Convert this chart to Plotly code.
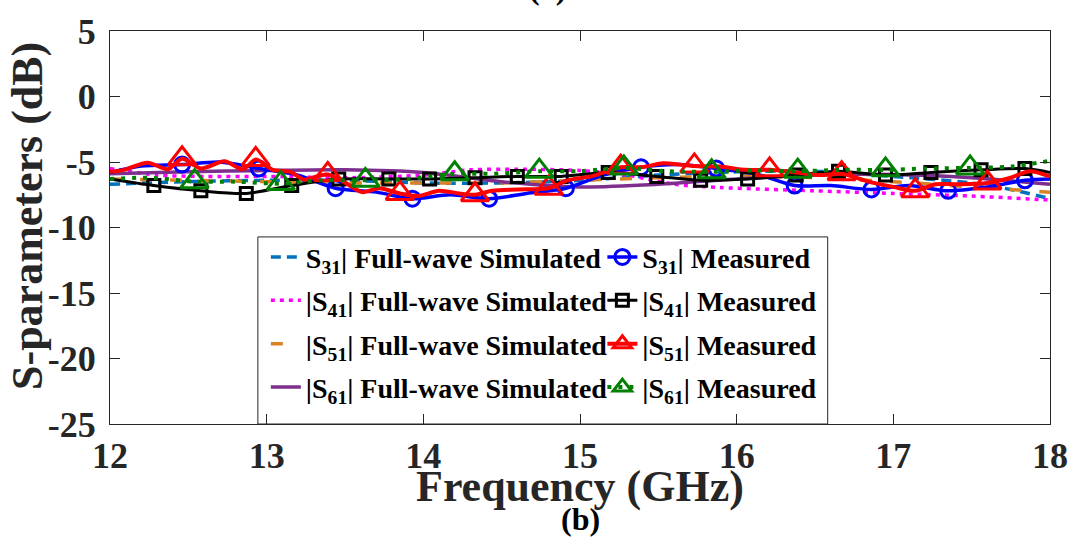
import plotly.graph_objects as go

FONT = "Liberation Serif"
INK = "#262626"

# ---------------- data (GHz, dB) ----------------
sim31_f = [12.0, 12.5, 13.0, 13.5, 14.0, 14.5, 15.0, 15.5, 16.0, 16.5, 17.0, 17.5, 17.75, 18.0]
sim31_db = [-6.7, -6.5, -6.4, -6.4, -6.6, -6.6, -6.4, -6.0, -5.75, -5.7, -6.1, -6.6, -7.1, -7.8]

sim41_f = [12.0, 12.3, 12.6, 13.0, 13.5, 14.0, 14.3, 14.6, 15.0, 15.3, 15.6, 15.9, 16.5, 17.0, 17.5, 18.0]
sim41_db = [-5.5, -6.0, -6.1, -6.1, -6.2, -6.0, -5.6, -5.55, -5.65, -6.0, -6.7, -6.95, -7.2, -7.4, -7.6, -7.9]

sim51_f = [12.0, 12.5, 13.0, 13.5, 14.0, 14.5, 15.0, 15.5, 16.0, 16.5, 17.0, 17.5, 18.0]
sim51_db = [-6.3, -6.4, -6.5, -6.6, -6.6, -6.6, -6.4, -6.2, -6.1, -6.2, -6.5, -6.9, -7.3]

sim61_f = [12.0, 12.5, 13.0, 13.5, 14.0, 14.5, 15.0, 15.5, 16.0, 16.5, 17.0, 17.5, 18.0]
sim61_db = [-5.9, -5.75, -5.65, -5.6, -5.8, -6.5, -6.9, -6.7, -6.3, -6.0, -5.95, -6.2, -6.7]

meas31_f = [12.0, 12.2, 12.46, 12.7, 12.95, 13.2, 13.44, 13.7, 13.93, 14.17, 14.42, 14.66,
            14.91, 15.15, 15.39, 15.63, 15.87, 16.12, 16.37, 16.6, 16.86, 17.1, 17.35, 17.6,
            17.84, 18.0]
meas31_db = [-5.8, -5.3, -5.2, -5.0, -5.5, -6.0, -7.0, -7.3, -7.8, -7.5, -7.8, -7.4,
             -7.0, -6.0, -5.4, -5.2, -5.5, -5.9, -6.8, -6.8, -7.1, -6.8, -7.2, -6.9,
             -6.4, -6.3]
meas31_marks = [12.46, 12.95, 13.44, 13.93, 14.42, 14.91, 15.39, 15.87, 16.37, 16.86, 17.35, 17.84]

meas41_f = [12.0, 12.28, 12.58, 12.87, 13.16, 13.46, 13.78, 14.04, 14.33, 14.6, 14.88, 15.18,
            15.49, 15.77, 16.07, 16.38, 16.65, 16.95, 17.24, 17.56, 17.84, 18.0]
meas41_db = [-6.3, -6.8, -7.2, -7.4, -6.8, -6.3, -6.3, -6.3, -6.2, -6.1, -6.1, -5.8,
             -6.1, -6.4, -6.3, -6.0, -5.7, -6.0, -5.8, -5.6, -5.5, -5.8]
meas41_marks = [12.28, 12.58, 12.87, 13.16, 13.46, 13.78, 14.04, 14.33, 14.6, 14.88, 15.18,
                15.49, 15.77, 16.07, 16.38, 16.65, 16.95, 17.24, 17.56, 17.84]

meas51_f = [12.0, 12.09, 12.24, 12.37, 12.46, 12.58, 12.73, 12.85, 12.93, 13.04, 13.15, 13.24,
            13.32, 13.39, 13.49, 13.61, 13.72, 13.85, 13.97, 14.1, 14.23, 14.33, 14.44, 14.6,
            14.8, 14.92, 15.07, 15.26, 15.39, 15.53, 15.64, 15.73, 15.89, 16.06, 16.21, 16.38,
            16.53, 16.67, 16.84, 17.0, 17.14, 17.27, 17.41, 17.6, 17.75, 17.87, 18.0]
meas51_db = [-5.75, -5.6, -5.05, -5.55, -4.75, -5.5, -4.95, -5.55, -4.8, -5.6, -5.75, -6.35,
             -6.1, -5.95, -6.5, -7.3, -7.0, -7.4, -7.6, -7.2, -7.4, -7.5, -7.2, -7.1,
             -7.0, -6.4, -6.1, -5.4, -5.4, -5.1, -5.2, -5.3, -5.35, -5.6, -5.6, -5.8,
             -6.0, -5.9, -6.5, -6.9, -7.2, -6.7, -6.7, -6.6, -6.2, -5.7, -6.1]
meas51_marks = [12.46, 12.93, 13.39, 13.85, 14.33, 14.8, 15.26, 15.73, 16.21, 16.67, 17.14, 17.6]

meas61_f = [12.0, 12.25, 12.54, 12.8, 13.09, 13.35, 13.63, 13.9, 14.2, 14.45, 14.74, 15.0,
            15.28, 15.55, 15.84, 16.1, 16.39, 16.67, 16.95, 17.2, 17.49, 17.75, 18.0]
meas61_db = [-6.3, -6.2, -6.5, -6.5, -6.65, -6.4, -6.4, -6.3, -5.9, -5.9, -5.7, -5.7,
             -5.45, -5.7, -5.75, -5.65, -5.7, -5.6, -5.6, -5.5, -5.45, -5.35, -4.9]
meas61_marks = [12.54, 13.09, 13.63, 14.2, 14.74, 15.28, 15.84, 16.39, 16.95, 17.49]

x_ticks = [12, 13, 14, 15, 16, 17, 18]
y_ticks = [5, 0, -5, -10, -15, -20, -25]

names_sim = ["S<sub>31</sub>| Full-wave Simulated", "|S<sub>41</sub>| Full-wave Simulated",
             "|S<sub>51</sub>| Full-wave Simulated", "|S<sub>61</sub>| Full-wave Simulated"]
names_meas = ["S<sub>31</sub>| Measured", "|S<sub>41</sub>| Measured",
              "|S<sub>51</sub>| Measured", "|S<sub>61</sub>| Measured"]

fig = go.Figure()

sims = [
    (sim31_f, sim31_db, "#0072BD", "10px,6px", 3.5),
    (sim41_f, sim41_db, "#FF00FF", "4px,5px", 3.5),
    (sim51_f, sim51_db, "#D98324", "12px,18px", 3.5),
    (sim61_f, sim61_db, "#7E2F8E", "solid", 3.5),
]
for k, ((f, db, col, dash, w), nm) in enumerate(zip(sims, names_sim)):
    fig.add_trace(go.Scatter(
        x=f, y=db, mode="lines", name=nm, legend="legend", legendgroup=f"sim{k}",
        line=dict(color=col, dash=dash, width=w, shape="spline", smoothing=0.8),
    ))

meas = [
    (meas31_f, meas31_db, meas31_marks, "#0000FF", "solid", 3.5, "circle-open", 15),
    (meas41_f, meas41_db, meas41_marks, "#000000", "solid", 3, "square-open", 12),
    (meas51_f, meas51_db, meas51_marks, "#FF0000", "solid", 4, "triangle-up-open", 24),
    (meas61_f, meas61_db, meas61_marks, "#008000", "4px,7px", 4, "triangle-up-open", 24),
]
for k, ((f, db, marks, col, dash, w, sym, ms), nm) in enumerate(zip(meas, names_meas)):
    sel = [i for i, v in enumerate(f) if v in marks]
    fig.add_trace(go.Scatter(
        x=f, y=db, mode="lines+markers", name=nm, legend="legend2", legendgroup=f"meas{k}",
        line=dict(color=col, dash=dash, width=w, shape="spline", smoothing=0.8),
        marker=dict(symbol=sym, size=ms, color=col, line=dict(width=3, color=col)),
        selectedpoints=sel,
        unselected=dict(marker=dict(opacity=0)),
        selected=dict(marker=dict(opacity=1)),
    ))

axis_common = dict(
    showline=True, linecolor=INK, linewidth=1, mirror="ticks",
    ticks="inside", ticklen=10, tickwidth=1, tickcolor=INK,
    showgrid=False, zeroline=False,
    tickfont=dict(family=FONT, size=36, color=INK, weight="bold"),
)

legend_common = dict(xanchor="left", yanchor="top", orientation="v",
                     traceorder="grouped", tracegroupgap=4,
                     bgcolor="rgba(0,0,0,0)", borderwidth=0,
                     font=dict(family=FONT, size=28, color="black", weight="bold"))

fig.update_layout(
    width=1080, height=541,
    margin=dict(l=110, r=23, t=25, b=117),
    paper_bgcolor="white", plot_bgcolor="white",
    font=dict(family=FONT, weight="bold", color="black"),
    xaxis=dict(range=[12, 18], tickvals=x_ticks, ticktext=[str(v) for v in x_ticks], **axis_common),
    yaxis=dict(range=[-25, 5], tickvals=y_ticks, ticktext=[str(v) for v in y_ticks],
               ticklabelstandoff=6, **axis_common),
    showlegend=True,
    legend=dict(x=0.1658, y=0.488, **legend_common),
    legend2=dict(x=0.5238, y=0.488, **legend_common),
    shapes=[dict(type="rect", xref="paper", yref="paper", x0=0.1573, x1=0.7635, y0=0, y1=0.476,
                 line=dict(color=INK, width=1), fillcolor="white", layer="below")],
    annotations=[
        dict(text="S-parameters (dB)", xref="paper", yref="paper", x=-0.088, y=0.53,
             textangle=-90, showarrow=False, xanchor="center", yanchor="middle",
             font=dict(family=FONT, size=44, color=INK, weight="bold")),
        dict(text="Frequency (GHz)", xref="paper", yref="paper", x=0.5, y=-0.158,
             showarrow=False, xanchor="center", yanchor="middle",
             font=dict(family=FONT, size=44, color=INK, weight="bold")),
        dict(text="(b)", xref="paper", yref="paper", x=0.5, y=-0.2406,
             showarrow=False, xanchor="center", yanchor="middle",
             font=dict(family=FONT, size=32, color="black", weight="bold")),
        dict(text="(a)", xref="paper", yref="paper", x=0.465, y=1.058,
             showarrow=False, xanchor="center", yanchor="bottom",
             font=dict(family=FONT, size=32, color="black", weight="bold")),
    ],
)

fig.write_html("out.html")
